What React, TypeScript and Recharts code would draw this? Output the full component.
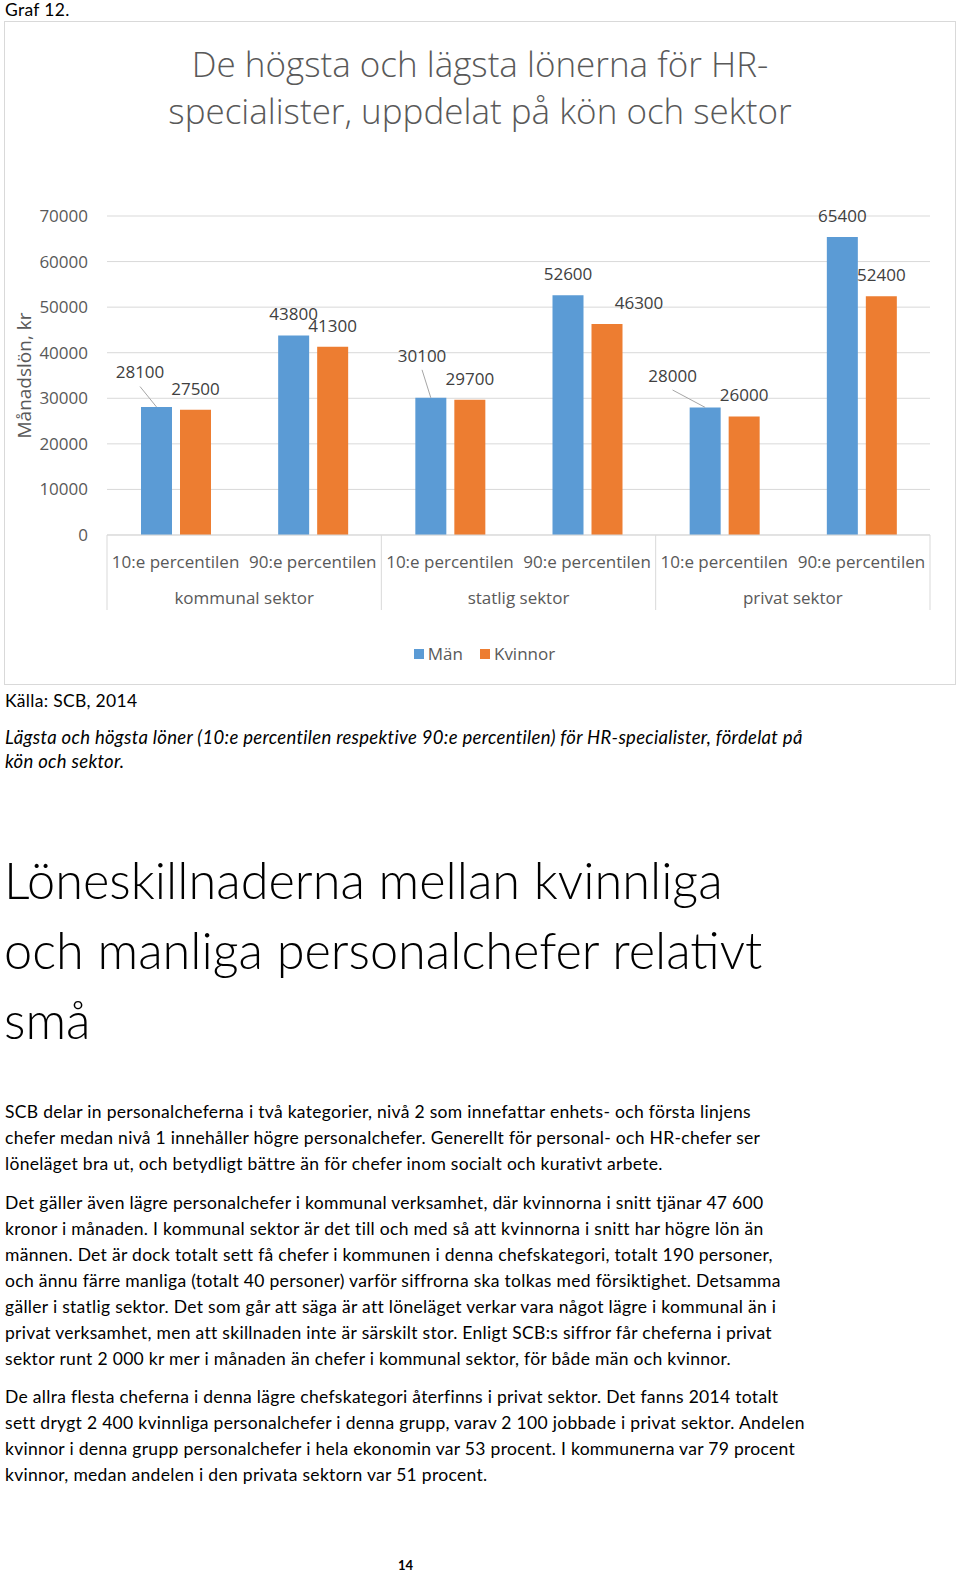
import React from 'react';
import { BarChart, Bar, XAxis, YAxis, CartesianGrid, LabelList, Legend, Label } from 'recharts';

// ---------- data ----------
const percentiles = [
  '10:e percentilen', '90:e percentilen',
  '10:e percentilen', '90:e percentilen',
  '10:e percentilen', '90:e percentilen',
];
const sectors = [
  'kommunal sektor', 'kommunal sektor',
  'statlig sektor', 'statlig sektor',
  'privat sektor', 'privat sektor',
];
const manValues = [28100, 43800, 30100, 52600, 28000, 65400];
const kvinnorValues = [27500, 41300, 29700, 46300, 26000, 52400];
const yTicks = [0, 10000, 20000, 30000, 40000, 50000, 60000, 70000];
const seriesNames = ['Män', 'Kvinnor'];
const chartTitle = ['De högsta och lägsta lönerna för HR-', 'specialister, uppdelat på kön och sektor'];
const yAxisTitle = 'Månadslön, kr';

const grafLabel = 'Graf 12.';
const sourceText = 'Källa: SCB, 2014';
const captionLines = [
  'Lägsta och högsta löner (10:e percentilen respektive 90:e percentilen) för HR-specialister, fördelat på',
  'kön och sektor.',
];
const headingLines = ['Löneskillnaderna mellan kvinnliga', 'och manliga personalchefer relativt', 'små'];
const paragraphs = [
  [
    'SCB delar in personalcheferna i två kategorier, nivå 2 som innefattar enhets- och första linjens',
    'chefer medan nivå 1 innehåller högre personalchefer. Generellt för personal- och HR-chefer ser',
    'löneläget bra ut, och betydligt bättre än för chefer inom socialt och kurativt arbete.',
  ],
  [
    'Det gäller även lägre personalchefer i kommunal verksamhet, där kvinnorna i snitt tjänar 47 600',
    'kronor i månaden. I kommunal sektor är det till och med så att kvinnorna i snitt har högre lön än',
    'männen. Det är dock totalt sett få chefer i kommunen i denna chefskategori, totalt 190 personer,',
    'och ännu färre manliga (totalt 40 personer) varför siffrorna ska tolkas med försiktighet. Detsamma',
    'gäller i statlig sektor. Det som går att säga är att löneläget verkar vara något lägre i kommunal än i',
    'privat verksamhet, men att skillnaden inte är särskilt stor. Enligt SCB:s siffror får cheferna i privat',
    'sektor runt 2 000 kr mer i månaden än chefer i kommunal sektor, för både män och kvinnor.',
  ],
  [
    'De allra flesta cheferna i denna lägre chefskategori återfinns i privat sektor. Det fanns 2014 totalt',
    'sett drygt 2 400 kvinnliga personalchefer i denna grupp, varav 2 100 jobbade i privat sektor. Andelen',
    'kvinnor i denna grupp personalchefer i hela ekonomin var 53 procent. I kommunerna var 79 procent',
    'kvinnor, medan andelen i den privata sektorn var 51 procent.',
  ],
];
const pageNumber = '14';

const data = percentiles.map((p, i) => ({
  pct: p,
  sector: sectors[i],
  man: manValues[i],
  kvinnor: kvinnorValues[i],
}));

// ---------- style / layout ----------
const CHART_FONT = '"Open Sans", "DejaVu Sans", sans-serif';
const PAGE_FONT = 'Lato, "Open Sans", sans-serif';
const COLORS = ['#5B9BD5', '#ED7D31'];
const GRID = '#D9D9D9';
const AXIS_TEXT = '#595959';
const LABEL_TEXT = '#404040';

type Shift = { dx: number; dy: number; leader?: boolean };
// manual nudges of a few data labels (as in the original Excel chart)
const MAN_LABEL_SHIFT: Record<number, Shift> = {
  0: { dx: -16.5, dy: -13.4, leader: true },
  2: { dx: -8.8, dy: -21, leader: true },
  4: { dx: -32.6, dy: -10.4, leader: true },
};
const KVINNOR_LABEL_SHIFT: Record<number, Shift> = {
  3: { dx: 32, dy: 0 },
};

function makeLabel(shifts: Record<number, Shift>) {
  return (props: any) => {
    const { x, y, width, value, index } = props;
    const cx = Number(x) + Number(width) / 2;
    const top = Number(y);
    const s = shifts[index] || { dx: 0, dy: 0 };
    const lx = cx + s.dx;
    const ly = top - 21 + s.dy;
    return (
      <g>
        {s.leader ? (
          <line x1={lx} y1={ly + 14} x2={cx} y2={top} stroke="#A6A6A6" strokeWidth={1} />
        ) : null}
        <text
          x={lx}
          y={ly}
          dy="0.35em"
          textAnchor="middle"
          fontFamily={CHART_FONT}
          fontSize={17}
          fill={LABEL_TEXT}
        >
          {value}
        </text>
      </g>
    );
  };
}

const PctTick = (props: any) => {
  const { x, y, payload } = props;
  return (
    <text
      x={x}
      y={Number(y) + 27}
      dy="0.35em"
      textAnchor="middle"
      fontFamily={CHART_FONT}
      fontSize={17}
      fill={AXIS_TEXT}
    >
      {payload.value}
    </text>
  );
};

const SectorTick = (props: any) => {
  const { x, y, payload, index, visibleTicksCount } = props;
  const half = payload && payload.offset ? payload.offset : 137.17;
  const yy = Number(y);
  const isLast = index === (visibleTicksCount ?? 3) - 1;
  return (
    <g>
      <line x1={x - half} x2={x - half} y1={yy - 40} y2={yy + 35} stroke={GRID} strokeWidth={1} />
      {isLast ? (
        <line x1={x + half} x2={x + half} y1={yy - 40} y2={yy + 35} stroke={GRID} strokeWidth={1} />
      ) : null}
      <text
        x={x}
        y={yy + 23}
        dy="0.35em"
        textAnchor="middle"
        fontFamily={CHART_FONT}
        fontSize={17}
        fill={AXIS_TEXT}
      >
        {payload.value}
      </text>
    </g>
  );
};

const YTitle = (props: any) => {
  const vb = props.viewBox || { x: 0, y: 195, width: 103, height: 319 };
  const cx = 27;
  const cy = vb.y + vb.height / 2;
  return (
    <text
      x={cx}
      y={cy}
      transform={`rotate(-90, ${cx}, ${cy})`}
      textAnchor="middle"
      fontFamily={CHART_FONT}
      fontSize={19}
      fill={AXIS_TEXT}
    >
      {yAxisTitle}
    </text>
  );
};

const LegendContent = () => (
  <div
    style={{
      height: 26,
      display: 'flex',
      justifyContent: 'center',
      alignItems: 'center',
      paddingLeft: 9,
      fontFamily: CHART_FONT,
      fontSize: 17,
      color: AXIS_TEXT,
      lineHeight: '26px',
    }}
  >
    {seriesNames.map((n, i) => (
      <span key={n} style={{ display: 'flex', alignItems: 'center', marginLeft: i ? 17 : 0 }}>
        <span style={{ width: 10, height: 10, background: COLORS[i], marginRight: 4, display: 'inline-block' }} />
        {n}
      </span>
    ))}
  </div>
);

function TextLine(props: {
  text: string;
  baseline: number;
  left?: number;
  size: number;
  italic?: boolean;
  weight?: number;
  color?: string;
  family?: string;
  tracking?: number;
}) {
  const {
    text, baseline, left = 5, size, italic, weight = 400, color = '#000', family = PAGE_FONT, tracking = 0,
  } = props;
  return (
    <div
      style={{
        position: 'absolute',
        left,
        top: baseline - 0.888 * size,
        fontFamily: family,
        fontSize: size,
        lineHeight: `${size}px`,
        fontStyle: italic ? 'italic' : 'normal',
        fontWeight: weight,
        letterSpacing: tracking,
        color,
        whiteSpace: 'nowrap',
      }}
    >
      {text}
    </div>
  );
}

const P_BASELINES = [
  [1119, 1145, 1171],
  [1210, 1236, 1262, 1288, 1314, 1340, 1366],
  [1404, 1430, 1456, 1482],
];
const BODY_SIZE = 17.5;
const BODY_TRACK = 0.3;

export default function App() {
  return (
    <div
      style={{
        position: 'absolute',
        left: 0,
        top: 0,
        width: 960,
        height: 1574,
        background: '#fff',
        overflow: 'hidden',
      }}
    >
      <TextLine text={grafLabel} baseline={17} size={BODY_SIZE} tracking={BODY_TRACK} />

      {/* chart frame */}
      <div
        style={{
          position: 'absolute',
          left: 4,
          top: 21,
          width: 952,
          height: 664,
          boxSizing: 'border-box',
          border: '1.5px solid #D9D9D9',
        }}
      />
      <div style={{ position: 'absolute', left: 4, top: 21, width: 952, height: 664 }}>
        <div
          style={{
            position: 'absolute',
            left: 0,
            top: 19,
            width: 952,
            textAlign: 'center',
            fontFamily: CHART_FONT,
            fontSize: 35,
            fontWeight: 300,
            lineHeight: '47px',
            color: AXIS_TEXT,
          }}
        >
          {chartTitle[0]}
          <br />
          {chartTitle[1]}
        </div>
        <BarChart
          width={952}
          height={664}
          data={data}
          margin={{ top: 195, right: 26, bottom: 18, left: 0 }}
          barGap={8}
        >
          <CartesianGrid vertical={false} stroke={GRID} />
          <XAxis
            dataKey="pct"
            height={40}
            interval={0}
            tickLine={false}
            tickSize={0}
            tickMargin={0}
            axisLine={{ stroke: GRID }}
            tick={<PctTick />}
          />
          <XAxis
            xAxisId="sector"
            dataKey="sector"
            allowDuplicatedCategory={false}
            height={66}
            interval={0}
            axisLine={false}
            tickLine={false}
            tickSize={0}
            tickMargin={0}
            tick={<SectorTick />}
          />
          <YAxis
            domain={[0, 70000]}
            ticks={yTicks}
            interval={0}
            width={103}
            axisLine={false}
            tickLine={false}
            tickSize={0}
            tickMargin={19}
            tick={{ fontSize: 17, fill: AXIS_TEXT, fontFamily: CHART_FONT }}
          >
            <Label content={<YTitle />} />
          </YAxis>
          <Legend
            verticalAlign="bottom"
            wrapperStyle={{ left: 0, width: 952 }}
            content={<LegendContent />}
          />
          <Bar dataKey="man" name={seriesNames[0]} fill={COLORS[0]} barSize={31} isAnimationActive={false}>
            <LabelList dataKey="man" content={makeLabel(MAN_LABEL_SHIFT)} />
          </Bar>
          <Bar dataKey="kvinnor" name={seriesNames[1]} fill={COLORS[1]} barSize={31} isAnimationActive={false}>
            <LabelList dataKey="kvinnor" content={makeLabel(KVINNOR_LABEL_SHIFT)} />
          </Bar>
        </BarChart>
      </div>

      <TextLine text={sourceText} baseline={708} size={BODY_SIZE} tracking={BODY_TRACK} />
      {captionLines.map((t, i) => (
        <TextLine key={t} text={t} baseline={744 + i * 24} size={18.5} tracking={0.3} italic />
      ))}

      {headingLines.map((t, i) => (
        <TextLine key={t} text={t} baseline={900 + i * 70} size={50.5} weight={300} left={4} />
      ))}

      {paragraphs.map((para, pi) =>
        para.map((t, li) => (
          <TextLine
            key={`${pi}-${li}`}
            text={t}
            baseline={P_BASELINES[pi][li]}
            size={BODY_SIZE}
            tracking={BODY_TRACK}
          />
        ))
      )}

      <TextLine text={pageNumber} baseline={1571} size={13} left={398} weight={700} />
    </div>
  );
}
